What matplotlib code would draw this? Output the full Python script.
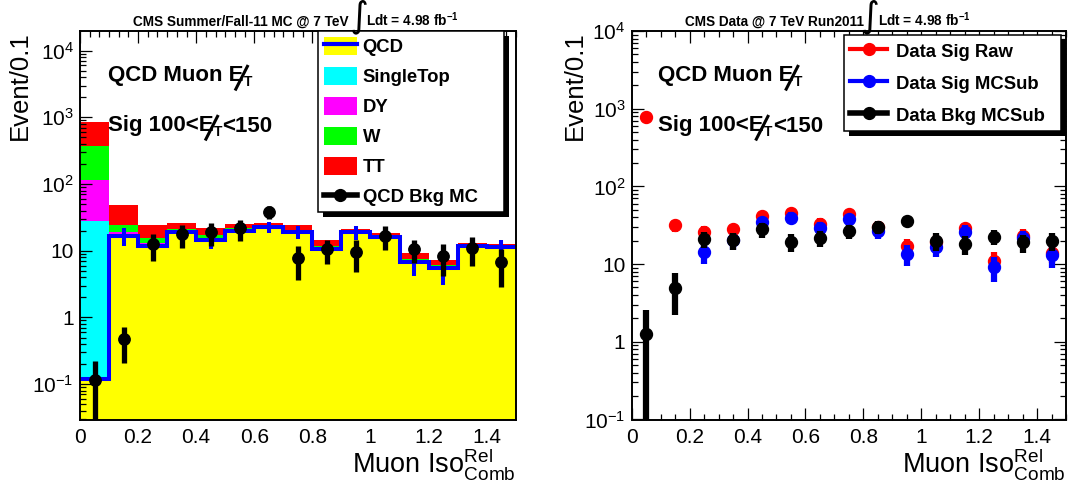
import numpy as np
import matplotlib
matplotlib.use('Agg')
import matplotlib.pyplot as plt
from matplotlib.patches import Patch, Rectangle
from matplotlib.lines import Line2D
from matplotlib.ticker import LogLocator, NullFormatter, FixedLocator, MultipleLocator, FuncFormatter
from matplotlib.transforms import IdentityTransform

plt.rcParams['font.family'] = ['Liberation Sans', 'DejaVu Sans']
plt.rcParams['mathtext.fontset'] = 'custom'
plt.rcParams['mathtext.rm'] = 'Liberation Sans'
plt.rcParams['mathtext.bf'] = 'Liberation Sans:bold'
plt.rcParams['mathtext.it'] = 'Liberation Sans:italic'
plt.rcParams['mathtext.sf'] = 'Liberation Sans'
plt.rcParams['mathtext.default'] = 'rm'

# ---------------- data ----------------
iso_edges = [0.0, 0.1, 0.2, 0.3, 0.4, 0.5, 0.6, 0.7, 0.8, 0.9, 1.0, 1.1, 1.2, 1.3, 1.4, 1.5]
iso_centers = [0.05, 0.15, 0.25, 0.35, 0.45, 0.55, 0.65, 0.75, 0.85, 0.95, 1.05, 1.15, 1.25, 1.35, 1.45]

# left: MC stack
mc_qcd = [0.12, 16.6, 11.9, 18.8, 14.5, 20.0, 22.9, 19.3, 10.5, 18.8, 16.2, 6.85, 5.44, 11.8, 11.2]
mc_qcd_err = [0.01, 5.0, 3.5, 4.5, 4.0, 4.5, 4.5, 4.5, 3.5, 4.5, 4.0, 2.7, 2.4, 3.5, 3.5]
mc_singletop = [28.0, 0.3, 0.3, 0.3, 0.3, 0.3, 0.2, 0.3, 0.2, 0.3, 0.2, 0.2, 0.1, 0.2, 0.2]
mc_dy = [87.0, 2.4, 0.8, 0.4, 0.5, 0.5, 0.3, 0.4, 0.3, 0.4, 0.3, 0.2, 0.2, 0.2, 0.2]
mc_w = [260.0, 5.0, 2.3, 1.4, 1.9, 0.9, 0.6, 0.8, 0.6, 0.5, 0.5, 0.4, 0.4, 0.3, 0.3]
mc_tt = [466.0, 24.1, 9.0, 5.4, 4.4, 3.2, 2.3, 3.5, 2.9, 1.1, 1.4, 1.45, 1.1, 0.4, 0.55]
qcd_bkg_mc = [0.115, 0.469, 12.45, 17.6, 18.8, 21.6, 38.5, 7.69, 10.5, 9.67, 16.6, 10.5, 8.42, 10.9, 6.77]
qcd_bkg_mc_err = [0.11, 0.26, 5.5, 6.7, 7.0, 7.5, 8.5, 4.0, 4.2, 4.8, 6.5, 4.0, 4.3, 5.0, 3.9]

# right: data
data_sig_raw = [782, 31.7, 26.0, 27.9, 41.7, 45.5, 33.3, 44.0, 30.2, 17.0, 19.5, 28.8, 10.9, 23.1, 14.1]
data_sig_raw_err = [28, 5.6, 5.1, 5.3, 6.5, 6.7, 5.8, 6.6, 5.5, 4.1, 4.4, 5.4, 3.3, 4.8, 3.8]
data_sig_mcsub = [np.nan, np.nan, 14.4, 20.3, 34.4, 39.4, 28.8, 37.8, 26.5, 13.4, 16.7, 26.0, 9.2, 21.8, 13.0]
data_sig_mcsub_err = [np.nan, np.nan, 4.4, 5.0, 6.5, 6.8, 5.8, 6.6, 5.5, 4.0, 4.5, 5.5, 3.3, 5.0, 4.0]
data_bkg_mcsub = [1.26, 4.9, 21.0, 20.3, 27.9, 19.4, 21.4, 26.8, 30.2, 36.0, 19.9, 18.1, 22.4, 19.0, 19.9]
data_bkg_mcsub_err = [1.34, 2.7, 5.0, 5.0, 6.0, 5.0, 5.0, 5.5, 5.5, 6.0, 5.0, 5.0, 5.0, 5.0, 5.0]

x_major_ticks = [0, 0.2, 0.4, 0.6, 0.8, 1.0, 1.2, 1.4]
x_tick_labels = ['0', '0.2', '0.4', '0.6', '0.8', '1', '1.2', '1.4']

# ---------------- figure ----------------
W, H = 1071, 491
fig = plt.figure(figsize=(W / 100, H / 100), dpi=100)
fig.patch.set_facecolor('white')


def px_axes(l, t, r, b):
    return fig.add_axes([l / W, 1 - b / H, (r - l) / W, (b - t) / H])


axL = px_axes(80, 31, 515.7, 420)
axR = px_axes(631.7, 31, 1066, 419.5)

TICK_FS = 15
XLAB_FS = 19.5
YLAB_FS = 18.5


def log_fmt(v, pos):
    e = int(round(np.log10(v)))
    if e == 0:
        return '1'
    if e == 1:
        return '10'
    return r'$10^{%d}$' % e


for ax in (axL, axR):
    ax.set_yscale('log')
    ax.set_xlim(0, 1.5)
    ax.xaxis.set_major_locator(FixedLocator(x_major_ticks))
    ax.set_xticklabels(x_tick_labels)
    ax.yaxis.set_major_locator(LogLocator(base=10, numticks=20))
    ax.yaxis.set_minor_locator(LogLocator(base=10, subs=np.arange(2, 10), numticks=20))
    ax.yaxis.set_minor_formatter(NullFormatter())
    ax.yaxis.set_major_formatter(FuncFormatter(log_fmt))
    for s in ax.spines.values():
        s.set_linewidth(1.4)
    ax.tick_params(which='major', direction='in', length=8.6, width=0.9, labelsize=TICK_FS)
    ax.tick_params(which='minor', direction='in', length=4.3, width=0.9)
    ax.tick_params(axis='y', which='major', pad=4.5)
    ax.tick_params(axis='x', which='major', pad=6)

axL.xaxis.set_minor_locator(MultipleLocator(0.2 / 6))
axR.xaxis.set_minor_locator(MultipleLocator(0.05))
axL.tick_params(which='both', top=True, bottom=False, left=True, right=False)
axR.tick_params(which='both', top=True, bottom=True, left=True, right=True)

axL.set_ylim(0.029, 19700)
axR.set_ylim(0.1, 10000)

# ---- left stack ----
c1 = np.array(mc_qcd)
c2 = c1 + np.array(mc_singletop)
c3 = c2 + np.array(mc_dy)
c4 = c3 + np.array(mc_w)
c5 = c4 + np.array(mc_tt)
base = 1e-4
axL.stairs(c5, iso_edges, baseline=base, fill=True, color='#ff0000', lw=0, zorder=1)
axL.stairs(c4, iso_edges, baseline=base, fill=True, color='#00ff00', lw=0, zorder=1)
axL.stairs(c3, iso_edges, baseline=base, fill=True, color='#ff00ff', lw=0, zorder=1)
axL.stairs(c2, iso_edges, baseline=base, fill=True, color='#00ffff', lw=0, zorder=1)
axL.stairs(c1, iso_edges, baseline=base, fill=True, color='#ffff00', lw=0, zorder=1)
axL.stairs(mc_qcd, iso_edges, baseline=None, color='#0000ff', lw=2.9, zorder=2)
axL.errorbar(iso_centers, mc_qcd, yerr=mc_qcd_err, fmt='none', ecolor='#0000ff',
             elinewidth=2.9, capsize=0, zorder=2)
axL.errorbar(iso_centers, qcd_bkg_mc, yerr=qcd_bkg_mc_err, fmt='o', color='black',
             ms=8.2, elinewidth=3.8, capsize=0, zorder=3)

# ---- right data ----
axR.errorbar(iso_centers, data_sig_raw, yerr=data_sig_raw_err, fmt='o', color='#ff0000',
             ms=8.6, elinewidth=4.5, capsize=0, zorder=3)
axR.errorbar(iso_centers, data_sig_mcsub, yerr=data_sig_mcsub_err, fmt='o', color='#0000ff',
             ms=8.6, elinewidth=4.5, capsize=0, zorder=4)
axR.errorbar(iso_centers, data_bkg_mcsub, yerr=data_bkg_mcsub_err, fmt='o', color='black',
             ms=8.6, elinewidth=4.5, capsize=0, zorder=5)

# ---- axis labels ----
xlab = r'Muon Iso$^{\mathrm{Rel}}_{\mathrm{Comb}}$'
for ax, lpx, bpx, hpx, wpx, ybase in ((axL, 80, 420, 389, 435.7, 27.0),
                                       (axR, 631.7, 419.5, 388.5, 434.3, 582.0)):
    ax.set_xlabel(xlab, fontsize=XLAB_FS, ha='right', va='baseline')
    ax.xaxis.set_label_coords(1.0, (bpx - 472.7) / hpx)
    ax.set_ylabel('Event/0.1', fontsize=YLAB_FS, ha='right', va='baseline')
    ax.yaxis.set_label_coords((ybase - lpx) / wpx, 1.0)

# ---- legends ----
LEG_FS = 13.3
legL_handles = [(Patch(facecolor='#ffff00', edgecolor='none'), Line2D([], [], color='#0000ff', lw=3)),
                Patch(facecolor='#00ffff', edgecolor='none'),
                Patch(facecolor='#ff00ff', edgecolor='none'),
                Patch(facecolor='#00ff00', edgecolor='none'),
                Patch(facecolor='#ff0000', edgecolor='none'),
                Line2D([], [], color='black', lw=4, marker='o', ms=8.5)]
legL_labels = ['QCD', 'SingleTop', 'DY', 'W', 'TT', 'QCD Bkg MC']
legL = axL.legend(legL_handles, legL_labels, loc='upper left',
                  bbox_to_anchor=(318.3 / W, 1 - 31 / H, (504 - 318.3) / W, 0),
                  bbox_transform=fig.transFigure, mode='expand', borderaxespad=0,
                  prop={'weight': 'bold', 'size': LEG_FS}, fancybox=False, framealpha=1,
                  edgecolor='black', borderpad=0.3, labelspacing=0.58, handlelength=1.8,
                  handleheight=1.14, handletextpad=0.3)
legL.get_frame().set_linewidth(1.1)

legR_handles = [Line2D([], [], color='#ff0000', lw=3, marker='o', ms=8.5),
                Line2D([], [], color='#0000ff', lw=3, marker='o', ms=8.5),
                Line2D([], [], color='black', lw=4, marker='o', ms=8.5)]
legR_labels = ['Data Sig Raw', 'Data Sig MCSub', 'Data Bkg MCSub']
legR = axR.legend(legR_handles, legR_labels, loc='upper left',
                  bbox_to_anchor=(844 / W, 1 - 35.3 / H, (1060.7 - 844) / W, 0),
                  bbox_transform=fig.transFigure, mode='expand', borderaxespad=0,
                  prop={'weight': 'bold', 'size': LEG_FS}, fancybox=False, framealpha=1,
                  edgecolor='black', borderpad=0.35, labelspacing=0.68, handlelength=2.0,
                  handleheight=1.14, handletextpad=0.45)
legR.get_frame().set_linewidth(1.1)

fig.canvas.draw()
renderer = fig.canvas.get_renderer()
for ax, leg in ((axL, legL), (axR, legR)):
    bb = leg.get_window_extent(renderer)
    sh = Rectangle((bb.x0 + 5, bb.y0 - 5), bb.width, bb.height, transform=IdentityTransform(),
                   facecolor='black', edgecolor='none', zorder=leg.get_zorder() - 0.1, clip_on=False)
    ax.add_artist(sh)


# ---- MET style texts ----
def met_text(x_px, y_px, pre, post, size):
    yd = H - y_px
    t1 = fig.text(x_px / W, yd / H, pre + 'E', fontsize=size, fontweight='bold', ha='left', va='baseline')
    bb = t1.get_window_extent(renderer)
    xe = bb.x1
    cap = 0.72 * size * 100 / 72
    t2 = fig.text((xe + 0.5) / W, (yd - 0.28 * cap) / H, 'T', fontsize=size * 0.62, fontweight='bold',
                  ha='left', va='baseline')
    bb2 = t2.get_window_extent(renderer)
    fig.add_artist(Line2D([(xe + 5) / W, (xe - 8) / W], [(yd + cap + 0.5) / H, (yd - 9) / H],
                          color='black', lw=2.2, solid_capstyle='butt'))
    if post:
        fig.text((bb2.x1 + 0.5) / W, yd / H, post, fontsize=size, fontweight='bold', ha='left', va='baseline')


for x0 in (107.6, 658):
    met_text(x0, 81.5, 'QCD Muon ', '', 16)
    met_text(x0, 131.5, 'Sig 100<', '<150', 16)


# ---- titles ----
def title(x_px, x_int, x_ldt, main):
    fig.text(x_px / W, 1 - 25.7 / H, main, fontsize=9.8, fontweight='bold', ha='left', va='baseline')
    fig.text(x_int / W, 1 - 16.5 / H, '\u222b', fontsize=26, family='DejaVu Sans',
             ha='center', va='center')
    fig.text(x_ldt / W, 1 - 25.7 / H, r'Ldt = 4.98 fb$^{\mathbf{-1}}$', fontsize=9.8,
             fontweight='bold', ha='left', va='baseline')


title(133, 359, 366, 'CMS Summer/Fall-11 MC @ 7 TeV')
title(684.6, 870.5, 878.5, 'CMS Data @ 7 TeV Run2011')

fig.savefig('out.png', dpi=100)
